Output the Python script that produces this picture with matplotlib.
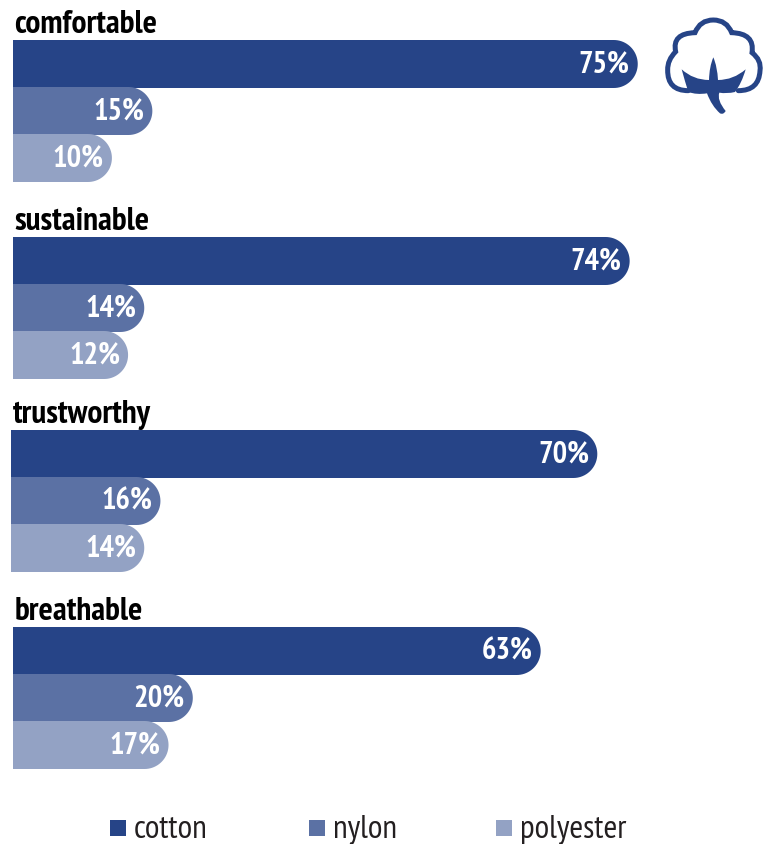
import numpy as np
import matplotlib
matplotlib.use("Agg")
import matplotlib.pyplot as plt
from matplotlib import font_manager as fm
from matplotlib.path import Path
from matplotlib.patches import PathPatch, Rectangle

qualities = ["comfortable", "sustainable", "trustworthy", "breathable"]
materials = ["cotton", "nylon", "polyester"]
cotton = [75, 74, 70, 63]
nylon = [15, 14, 16, 20]
polyester = [10, 12, 14, 17]
colors = ["#264487", "#5B71A4", "#93A2C4"]

W, H = 769, 844
PX_PER_UNIT = 8.09
ZERO_PX = 31
BAR_LEFT_PX = 13
group_tops = [40, 237, 430, 627]
group_nudge = [0, 0, -2, 0]
title_px = [14, 14, 13, 15]
BAR_H = 48
BAR_STEP = 47

# first condensed family that is around, else the plain sans
installed = {f.name for f in fm.fontManager.ttflist}
NARROW = next((n for n in ["PT Sans Narrow", "Barlow Condensed", "Roboto Condensed"] if n in installed),
              "Liberation Sans")

fig = plt.figure(figsize=(W / 100, H / 100), dpi=100)
ax = fig.add_axes([0, 0, 1, 1])
ax.set_xlim(-ZERO_PX / PX_PER_UNIT, (W - ZERO_PX) / PX_PER_UNIT)
ax.set_ylim(H, 0)
ax.axis("off")

# second axes in plain pixels for the icon and the legend
px = fig.add_axes([0, 0, 1, 1])
px.set_xlim(0, W)
px.set_ylim(H, 0)
px.axis("off")
px.patch.set_alpha(0)


def to_x(p):
    return (p - ZERO_PX) / PX_PER_UNIT


def rounded_bar(value, top, color, left_px):
    # flat on the left, half circle on the right end
    r = BAR_H / 2
    end = ZERO_PX + value * PX_PER_UNIT
    t = np.linspace(-np.pi / 2, np.pi / 2, 40)
    xs = end - r + r * np.cos(t)
    ys = top + r + r * np.sin(t)
    verts = [(to_x(left_px), top)] + [(to_x(a), b) for a, b in zip(xs, ys)]
    verts += [(to_x(left_px), top + BAR_H), (to_x(left_px), top)]
    ax.add_patch(PathPatch(Path(verts), fc=color, ec="none"))
    return end


series = [cotton, nylon, polyester]
for g, name in enumerate(qualities):
    top = group_tops[g]
    ax.text(to_x(title_px[g]), top - 7, name, family=NARROW, fontsize=24, fontweight="bold",
            color="black", ha="left", va="baseline")
    for k, values in enumerate(series):
        y = top + k * BAR_STEP
        end = rounded_bar(values[g], y, colors[k], BAR_LEFT_PX + group_nudge[g])
        ax.text(to_x(end - 8), y + 33, f"{values[g]}%", family=NARROW, fontsize=22,
                fontweight="bold", color="white", ha="right", va="baseline")

# legend
legend_box_x = [110, 309, 496]
legend_text_x = [134, 333, 520]
for name, c, bx, tx in zip(materials, colors, legend_box_x, legend_text_x):
    px.add_patch(Rectangle((bx, 820), 16, 16, fc=c, ec="none"))
    px.text(tx, 838, name, family=NARROW, fontsize=24, color="#231F20", ha="left", va="baseline")


# cotton boll, coordinates on a 3x grid
def icon(p):
    return [(560 + a / 3, b / 3) for a, b in p]


C3 = Path.CURVE3
outline = [(385, 272), (322, 272), (323, 210), (322, 180), (347, 155),
           (335, 100), (405, 98), (420, 60), (460, 60), (500, 60), (515, 98),
           (585, 100), (576, 158), (605, 180), (600, 212), (597, 272), (535, 272)]
px.add_patch(PathPatch(Path(icon(outline), [Path.MOVETO] + [C3] * (len(outline) - 1)),
                       fc="none", ec=colors[0], lw=3.6, capstyle="round"))

body = [(460, 172), (472, 200), (474, 240), (520, 240), (557, 208),
        (545, 250), (525, 276), (500, 282), (478, 278), (470, 300), (497, 333),
        (490, 345), (480, 340), (455, 318), (441, 280), (410, 285), (385, 276),
        (375, 245), (365, 208), (400, 240), (447, 240), (448, 200), (460, 172)]
px.add_patch(PathPatch(Path(icon(body), [Path.MOVETO] + [C3] * (len(body) - 1)),
                       fc=colors[0], ec="none"))

fig.savefig("out.png", dpi=100, facecolor="white")
